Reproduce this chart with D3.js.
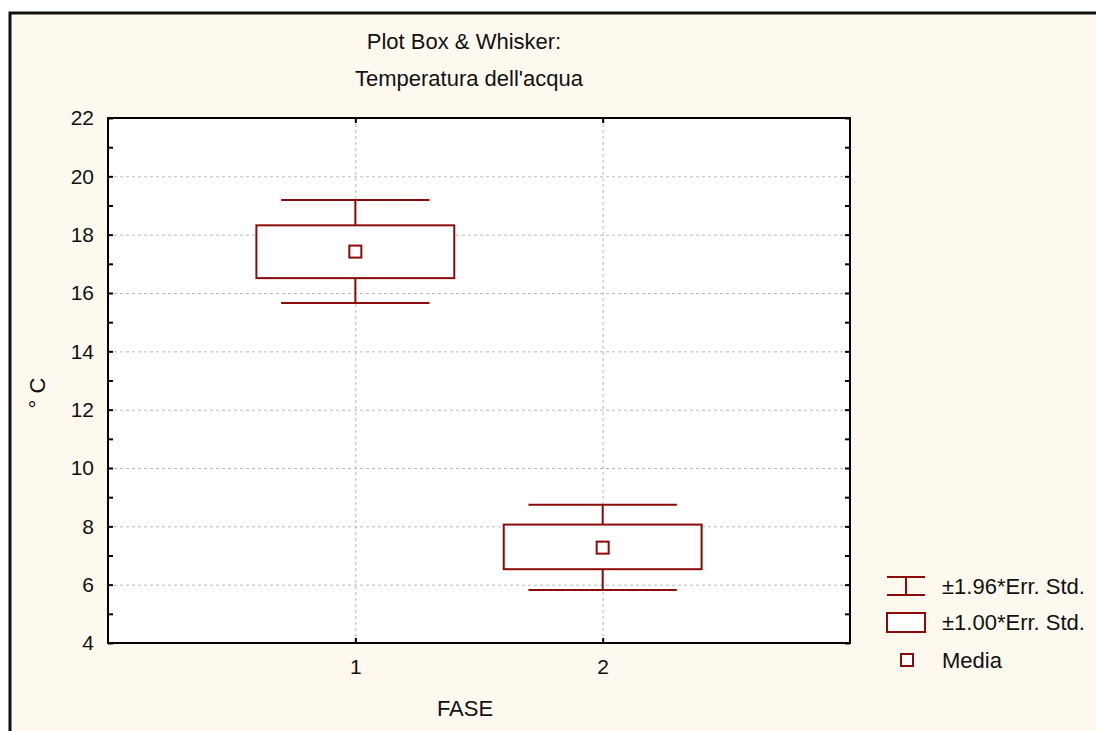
<!DOCTYPE html>
<html>
<head>
<meta charset="utf-8">
<script src="https://cdn.jsdelivr.net/npm/d3@7"></script>
<style>
  html, body { margin: 0; padding: 0; background: #fff; overflow: hidden; }
  svg { display: block; font-family: "Liberation Sans", Arial, sans-serif; }
</style>
</head>
<body>
<svg id="chart" width="1096" height="731"></svg>
<script>
// data
const fasi = ["1", "2"];
const medie = [17.42, 7.27];
const se1Low = [16.51, 6.53];
const se1High = [18.32, 8.06];
const se196Low = [15.66, 5.82];
const se196High = [19.19, 8.74];
const yTicksMajor = [4, 6, 8, 10, 12, 14, 16, 18, 20, 22];
const yTicksMinor = [5, 7, 9, 11, 13, 15, 17, 19, 21];
const legendLabels = ["\u00b11.96*Err. Std.", "\u00b11.00*Err. Std.", "Media"];

const width = 1096, height = 731;
const margin = { left: 108, right: 850, top: 118, bottom: 643 };
const red = "#8b0a0a";

const svg = d3.select("#chart");

// outer panel (runs off the right and bottom edges)
svg.append("rect")
  .attr("x", 10).attr("y", 13)
  .attr("width", width + 200).attr("height", height + 200)
  .attr("fill", "#fef9ee")
  .attr("stroke", "#111")
  .attr("stroke-width", 3);

const x = d3.scaleLinear().domain([0, 3]).range([margin.left, margin.right]);
const y = d3.scaleLinear().domain([4, 22]).range([margin.bottom, margin.top]);

// plot area
svg.append("rect")
  .attr("x", margin.left).attr("y", margin.top)
  .attr("width", margin.right - margin.left)
  .attr("height", margin.bottom - margin.top)
  .attr("fill", "#fff");

// grid
const grid = svg.append("g")
  .attr("stroke", "#b8b8b8")
  .attr("stroke-width", 1)
  .attr("stroke-dasharray", "3,3");
grid.selectAll("line.h")
  .data(yTicksMajor.filter(d => d > 4 && d < 22))
  .enter().append("line")
  .attr("x1", margin.left).attr("x2", margin.right)
  .attr("y1", d => y(d) + 0.5).attr("y2", d => y(d) + 0.5);
grid.selectAll("line.v")
  .data(fasi)
  .enter().append("line")
  .attr("x1", (d, i) => x(i + 1) + 0.5).attr("x2", (d, i) => x(i + 1) + 0.5)
  .attr("y1", margin.top).attr("y2", margin.bottom);

// axes with inward ticks
const axisLeft = d3.axisLeft(y).tickValues(yTicksMajor).tickSize(-5).tickPadding(14).tickFormat(d3.format("d"));
const gl = svg.append("g").attr("transform", `translate(${margin.left},0)`).call(axisLeft);
const gl2 = svg.append("g").attr("transform", `translate(${margin.left},0)`)
  .call(d3.axisLeft(y).tickValues(yTicksMinor).tickSize(-5).tickFormat(""));
const gr = svg.append("g").attr("transform", `translate(${margin.right},0)`)
  .call(d3.axisRight(y).tickValues(yTicksMajor.concat(yTicksMinor)).tickSize(-5).tickFormat(""));
const gb = svg.append("g").attr("transform", `translate(0,${margin.bottom})`)
  .call(d3.axisBottom(x).tickValues([1, 2]).tickSize(-5).tickPadding(16).tickFormat((d, i) => fasi[i]));
const gt = svg.append("g").attr("transform", `translate(0,${margin.top})`)
  .call(d3.axisTop(x).tickValues([1, 2]).tickSize(-5).tickFormat(""));

[gl, gl2, gr, gb, gt].forEach(g => {
  g.select(".domain").remove();
  g.selectAll(".tick line").attr("stroke", "#000").attr("stroke-width", 2);
  g.selectAll(".tick text")
    .attr("fill", "#111")
    .style("font-size", "21px")
    .style("font-family", "'Liberation Sans', Arial, sans-serif");
});

// plot border
svg.append("rect")
  .attr("x", margin.left).attr("y", margin.top)
  .attr("width", margin.right - margin.left)
  .attr("height", margin.bottom - margin.top)
  .attr("fill", "none")
  .attr("stroke", "#000")
  .attr("stroke-width", 2);

// boxes & whiskers
const unit = x(1) - x(0);
const boxW = 0.8 * unit, capW = 0.6 * unit, markS = 12;
const boxes = svg.append("g")
  .attr("stroke", red).attr("stroke-width", 2);

fasi.forEach((f, i) => {
  const cx = x(i + 1);
  const g = boxes.append("g");
  g.append("line").attr("x1", cx).attr("x2", cx).attr("y1", y(se196High[i])).attr("y2", y(se1High[i]));
  g.append("line").attr("x1", cx).attr("x2", cx).attr("y1", y(se1Low[i])).attr("y2", y(se196Low[i]));
  g.append("line").attr("x1", cx - capW / 2).attr("x2", cx + capW / 2).attr("y1", y(se196High[i])).attr("y2", y(se196High[i]));
  g.append("line").attr("x1", cx - capW / 2).attr("x2", cx + capW / 2).attr("y1", y(se196Low[i])).attr("y2", y(se196Low[i]));
  g.append("rect")
    .attr("x", cx - boxW / 2).attr("y", y(se1High[i]))
    .attr("width", boxW).attr("height", y(se1Low[i]) - y(se1High[i]))
    .attr("fill", "#fff");
  g.append("rect")
    .attr("x", cx - markS / 2).attr("y", y(medie[i]) - markS / 2)
    .attr("width", markS).attr("height", markS)
    .attr("fill", "#fff");
});

// titles
const title = svg.append("g")
  .attr("fill", "#111")
  .style("font-size", "22px")
  .attr("text-anchor", "middle");
title.append("text").attr("x", 464).attr("y", 49).text("Plot Box & Whisker:");
title.append("text").attr("x", 469).attr("y", 86).text("Temperatura dell'acqua");

svg.append("text")
  .attr("transform", "translate(45,393) rotate(-90)")
  .attr("text-anchor", "middle")
  .attr("fill", "#111")
  .style("font-size", "22px")
  .text("\u00b0 C");

svg.append("text")
  .attr("x", 465).attr("y", 716)
  .attr("text-anchor", "middle")
  .attr("fill", "#111")
  .style("font-size", "22px")
  .text("FASE");

// legend
const leg = svg.append("g");
const rows = [586, 622, 660];
const ls = leg.append("g").attr("stroke", red).attr("stroke-width", 2);
ls.append("line").attr("x1", 887).attr("x2", 925).attr("y1", rows[0] - 9).attr("y2", rows[0] - 9);
ls.append("line").attr("x1", 887).attr("x2", 925).attr("y1", rows[0] + 9).attr("y2", rows[0] + 9);
ls.append("line").attr("x1", 906).attr("x2", 906).attr("y1", rows[0] - 9).attr("y2", rows[0] + 9);
ls.append("rect").attr("x", 887).attr("y", rows[1] - 9).attr("width", 38).attr("height", 19).attr("fill", "#fff");
ls.append("rect").attr("x", 901).attr("y", rows[2] - 6).attr("width", 12).attr("height", 12).attr("fill", "#fff");

leg.selectAll("text.lab")
  .data(legendLabels)
  .enter().append("text")
  .attr("x", 942)
  .attr("y", (d, i) => rows[i] + 8)
  .attr("fill", "#111")
  .style("font-size", "22px")
  .text(d => d);
</script>
</body>
</html>
